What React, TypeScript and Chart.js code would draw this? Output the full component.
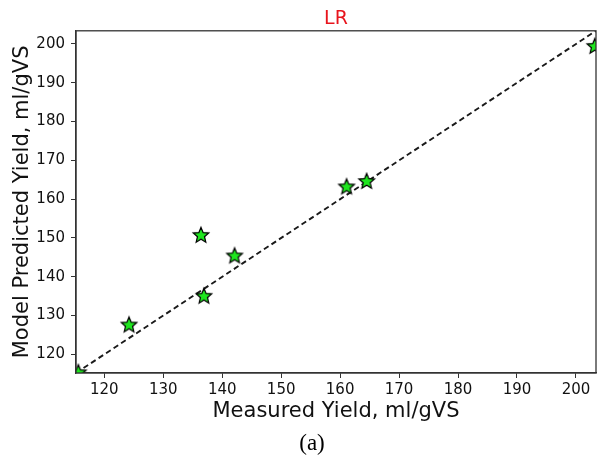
import React, { useEffect, useRef } from "react";
import { Chart, registerables } from "chart.js";

Chart.register(...registerables);

const measured = [115.6, 124.2, 136.4, 136.9, 142.1, 161.1, 164.5, 203.2];
const predicted = [115.4, 127.7, 150.8, 135.1, 145.5, 163.3, 164.7, 199.5];
const axisRange = [115.2, 203.4];
const xTicks = [120, 130, 140, 150, 160, 170, 180, 190, 200];
const yTicks = [120, 130, 140, 150, 160, 170, 180, 190, 200];
const titleText = "LR";
const xTitle = "Measured Yield, ml/gVS";
const yTitle = "Model Predicted Yield, ml/gVS";
const captionText = "(a)";

function makeStar(): HTMLCanvasElement {
  const size = 22;
  const c = document.createElement("canvas");
  c.width = size;
  c.height = size;
  const ctx = c.getContext("2d")!;
  const cx = size / 2;
  const cy = size / 2 + 0.6;
  const R = 8.2;
  const r = R * 0.45;
  ctx.beginPath();
  for (let i = 0; i < 10; i++) {
    const rad = i % 2 === 0 ? R : r;
    const a = -Math.PI / 2 + (i * Math.PI) / 5;
    const px = cx + rad * Math.cos(a);
    const py = cy + rad * Math.sin(a);
    if (i === 0) ctx.moveTo(px, py);
    else ctx.lineTo(px, py);
  }
  ctx.closePath();
  ctx.fillStyle = "#1ee61e";
  ctx.fill();
  ctx.lineWidth = 1.2;
  ctx.strokeStyle = "#000";
  ctx.lineJoin = "miter";
  ctx.stroke();
  return c;
}

const frame = {
  id: "frame",
  afterDatasetsDraw(chart: any) {
    const { ctx, chartArea } = chart;
    ctx.save();
    ctx.strokeStyle = "#333";
    ctx.lineWidth = 1.3;
    ctx.strokeRect(chartArea.left, chartArea.top, chartArea.right - chartArea.left, chartArea.bottom - chartArea.top);
    ctx.restore();
  },
};

export default function App() {
  const ref = useRef<HTMLCanvasElement | null>(null);
  useEffect(() => {
    const star = makeStar();
    const font = "'DejaVu Sans', sans-serif";
    const chart = new Chart(ref.current!, {
      type: "scatter",
      data: {
        datasets: [
          {
            data: measured.map((x, i) => ({ x, y: predicted[i] })),
            pointStyle: star as any,
            pointRadius: 8,
            order: 0,
            clip: 0 as any,
          },
          {
            type: "line",
            data: axisRange.map((v) => ({ x: v, y: v })),
            borderColor: "#1a1a1a",
            borderWidth: 1.9,
            borderDash: [5.5, 3.5],
            pointRadius: 0,
            showLine: true,
            fill: false,
            order: 1,
          } as any,
        ],
      },
      options: {
        responsive: false,
        animation: false,
        layout: { padding: { left: 10, right: 5, top: 0, bottom: 30 } },
        plugins: {
          legend: { display: false },
          tooltip: { enabled: false },
          title: {
            display: true,
            fullSize: false,
            text: titleText,
            color: "#e8141c",
            font: { family: font, size: 19, weight: "normal" },
            padding: { top: 8, bottom: 0 },
          },
        },
        scales: {
          x: {
            type: "linear",
            min: axisRange[0],
            max: axisRange[1],
            afterBuildTicks: (s: any) => {
              s.ticks = xTicks.map((v) => ({ value: v }));
            },
            afterFit: (s: any) => {
              s.height = 55;
              s.paddingLeft = 0;
              s.paddingRight = 0;
            },
            grid: { drawOnChartArea: false, drawTicks: true, tickLength: 5, color: "#333" },
            border: { display: true, color: "#333", width: 1.3 },
            ticks: { color: "#111", font: { family: font, size: 15 }, padding: 3, maxRotation: 0 },
            title: {
              display: true,
              text: xTitle,
              color: "#111",
              font: { family: font, size: 21 },
              padding: { top: 1, bottom: 4 },
            },
          },
          y: {
            type: "linear",
            min: axisRange[0],
            max: axisRange[1],
            afterBuildTicks: (s: any) => {
              s.ticks = yTicks.map((v) => ({ value: v }));
            },
            afterFit: (s: any) => {
              s.width = 66;
              s.paddingTop = 0;
              s.paddingBottom = 0;
            },
            grid: { drawOnChartArea: false, drawTicks: true, tickLength: 5, color: "#333" },
            border: { display: true, color: "#333", width: 1.3 },
            ticks: { color: "#111", font: { family: font, size: 15 }, padding: 6 },
            title: {
              display: true,
              text: yTitle,
              color: "#111",
              font: { family: font, size: 21 },
              padding: { top: 0, bottom: 2 },
            },
          },
        },
      },
      plugins: [frame],
    });
    return () => chart.destroy();
  }, []);
  return (
    <div style={{ position: "fixed", left: 0, top: 0, width: 605, height: 458, background: "#fff" }}>
      <canvas ref={ref} width={605} height={458} style={{ display: "block" }} />
      <div
        style={{
          position: "absolute",
          left: 262,
          width: 100,
          top: 429,
          height: 28,
          lineHeight: "28px",
          textAlign: "center",
          fontFamily: "'Liberation Serif', serif",
          fontSize: 23,
          color: "#000",
        }}
      >
        {captionText}
      </div>
    </div>
  );
}
